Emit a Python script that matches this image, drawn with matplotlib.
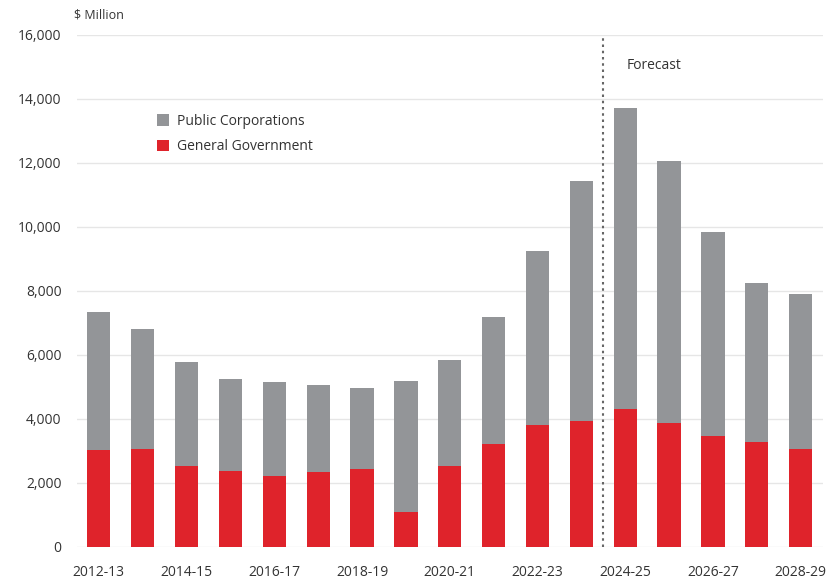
import matplotlib
matplotlib.use("Agg")
import numpy as np
from matplotlib import pyplot as plt

# Data ($ Million)
years = ['2012-13', '2013-14', '2014-15', '2015-16', '2016-17', '2017-18',
         '2018-19', '2019-20', '2020-21', '2021-22', '2022-23', '2023-24',
         '2024-25', '2025-26', '2026-27', '2027-28', '2028-29']
general_gov = [3010, 3050, 2510, 2380, 2200, 2340, 2440, 1070, 2510,
               3210, 3790, 3940, 4300, 3880, 3450, 3260, 3040]
total = [7350, 6820, 5770, 5230, 5150, 5050, 4970, 5180, 5830,
         7180, 9240, 11420, 13730, 12070, 9840, 8230, 7900]
public_corp = [t - g for t, g in zip(total, general_gov)]

yticks = [0, 2000, 4000, 6000, 8000, 10000, 12000, 14000, 16000]

grey = '#939598'
red = '#df232b'
text_col = '#333333'

plt.rcParams['font.family'] = ['Open Sans', 'DejaVu Sans']

fig = plt.figure(figsize=(8.36, 5.83), dpi=100)
ax = fig.add_axes([0.092, 0.0623, 0.892, 0.8777])

x = np.arange(len(years))
ax.bar(x, general_gov, width=0.53, color=red, label='General Government', zorder=3)
ax.bar(x, public_corp, width=0.53, bottom=general_gov, color=grey,
       label='Public Corporations', zorder=3)

ax.set_xlim(-0.5, len(years) - 0.5)
ax.set_ylim(0, 16000)
ax.set_yticks(yticks)
ax.set_yticklabels([f'{v:,}' for v in yticks])
ax.set_xticks(x[::2])
ax.set_xticklabels(years[::2])
ax.tick_params(axis='both', length=0, labelsize=10, colors=text_col)
ax.tick_params(axis='y', pad=11)
ax.tick_params(axis='x', pad=13)
for s in ax.spines.values():
    s.set_visible(False)
ax.grid(axis='y', color='#e6e6e6', linewidth=1, zorder=0)

# forecast divider
ax.axvline(11.5, color='#666666', linestyle=(0, (1.2, 1.8)), linewidth=1.5, zorder=4)
ax.text(12.03, 15050, 'Forecast', fontsize=10, color=text_col, va='center')

fig.text(0.088, 0.975, '$ Million', fontsize=9, color=text_col, va='center')

handles, labels = ax.get_legend_handles_labels()
ax.legend(handles[::-1], labels[::-1], loc='upper left', bbox_to_anchor=(0.09, 0.87),
          frameon=False, fontsize=10, handlelength=0.9, handleheight=0.9,
          handletextpad=0.6, labelspacing=0.75, labelcolor=text_col)

fig.savefig('out.png', dpi=100)
